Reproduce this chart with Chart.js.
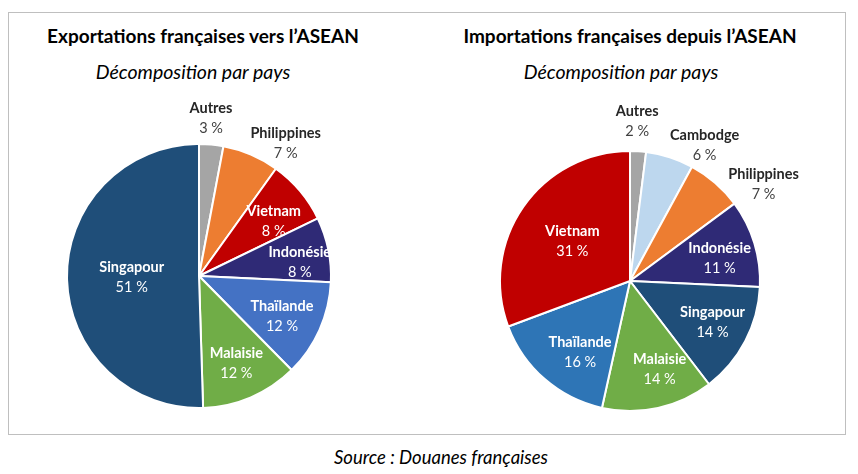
<!DOCTYPE html>
<html lang="fr">
<head>
  <meta charset="UTF-8">
  <title>ASEAN - décomposition par pays</title>
  <script src="https://cdn.jsdelivr.net/npm/chart.js"></script>
  <style>
    body {
      margin: 0;
      background: #ffffff;
      font-family: Lato, "Open Sans", sans-serif;
      width: 858px;
      height: 474px;
      position: relative;
      overflow: hidden;
    }
    .frame {
      position: absolute;
      left: 8px;
      top: 12px;
      width: 836px;
      height: 421px;
      border: 1.5px solid #bfbfbf;
    }
    .title {
      position: absolute;
      font-weight: bold;
      font-size: 19px;
      color: #000;
      white-space: nowrap;
      transform: translateX(-50%);
    }
    .subtitle {
      position: absolute;
      font-style: italic;
      font-size: 19.5px;
      color: #000;
      white-space: nowrap;
      transform: translateX(-50%);
    }
    .chart-box {
      position: absolute;
      width: 400px;
      height: 335px;
      top: 95px;
    }
    .source {
      position: absolute;
      left: 441px;
      top: 446px;
      transform: translateX(-50%);
      font-style: italic;
      font-size: 18.5px;
      color: #000;
      white-space: nowrap;
    }
  </style>
</head>
<body>
  <div class="frame"></div>

  <div class="title" style="left:203px; top:24px;">Exportations françaises vers l’ASEAN</div>
  <div class="subtitle" style="left:193px; top:60px;">Décomposition par pays</div>
  <div class="title" style="left:630px; top:24px;">Importations françaises depuis l’ASEAN</div>
  <div class="subtitle" style="left:621px; top:60px;">Décomposition par pays</div>

  <div class="chart-box" style="left:10px;"><canvas id="exportChart"></canvas></div>
  <div class="chart-box" style="left:430px;"><canvas id="importChart"></canvas></div>

  <div class="source">Source : Douanes françaises</div>

  <script>
    // exports, clockwise from 12 o'clock
    const exportCountries = ['Autres', 'Philippines', 'Vietnam', 'Indonésie', 'Thaïlande', 'Malaisie', 'Singapour'];
    const exportShares = [3, 7, 8, 8, 12, 12, 51];

    // imports, clockwise from 12 o'clock
    const importCountries = ['Autres', 'Cambodge', 'Philippines', 'Indonésie', 'Singapour', 'Malaisie', 'Thaïlande', 'Vietnam'];
    const importShares = [2, 6, 7, 11, 14, 14, 16, 31];

    // styling
    const exportColors = ['#a5a5a5', '#ed7d31', '#c00000', '#2f2a76', '#4472c4', '#70ad47', '#1f4e79'];
    const importColors = ['#a5a5a5', '#bdd7ee', '#ed7d31', '#2f2a76', '#1f4e79', '#70ad47', '#2e75b6', '#c00000'];
    // label distance from centre (share of radius) and angle nudge (degrees)
    const exportLabelPos = [[1.2, -1], [1.2, 10], [0.7, 4], [0.77, 4], [0.7, 2], [0.72, 0], [0.51, 0]];
    const importLabelPos = [[1.23, -1], [1.19, 11], [1.27, 13], [0.71, 3], [0.71, -1], [0.72, -6], [0.67, -6], [0.54, 0]];
    const exportOutside = [true, true, false, false, false, false, false];
    const importOutside = [true, true, true, false, false, false, false, false];

    const sliceLabels = {
      id: 'sliceLabels',
      afterDatasetsDraw(chart, args, opts) {
        const ctx = chart.ctx;
        const meta = chart.getDatasetMeta(0);
        const names = chart.data.labels;
        const values = chart.data.datasets[0].data;
        meta.data.forEach((arc, i) => {
          const p = arc.getProps(['x', 'y', 'startAngle', 'endAngle', 'outerRadius'], true);
          const mid = (p.startAngle + p.endAngle) / 2 + opts.pos[i][1] * Math.PI / 180;
          const r = p.outerRadius * opts.pos[i][0];
          const cx = p.x + Math.cos(mid) * r;
          const cy = p.y + Math.sin(mid) * r;
          const outside = opts.outside[i];
          ctx.save();
          ctx.textAlign = 'center';
          ctx.textBaseline = 'middle';
          ctx.font = 'bold 14.5px Lato, sans-serif';
          ctx.fillStyle = outside ? '#262626' : '#ffffff';
          ctx.fillText(names[i], cx, cy - 10);
          ctx.font = '14.5px Lato, sans-serif';
          ctx.fillStyle = outside ? '#404040' : '#ffffff';
          ctx.fillText(values[i] + ' %', cx, cy + 10);
          ctx.restore();
        });
      }
    };

    function makePie(id, labels, values, colors, padding, pos, outside) {
      return new Chart(document.getElementById(id), {
        type: 'pie',
        data: {
          labels: labels,
          datasets: [{
            data: values,
            backgroundColor: colors,
            borderColor: '#ffffff',
            borderWidth: 2
          }]
        },
        options: {
          responsive: true,
          maintainAspectRatio: false,
          animation: false,
          layout: { padding: padding },
          plugins: {
            legend: { display: false },
            tooltip: { enabled: false },
            sliceLabels: { pos: pos, outside: outside }
          }
        },
        plugins: [sliceLabels]
      });
    }

    makePie('exportChart', exportCountries, exportShares, exportColors,
      { left: 56, right: 78, top: 48, bottom: 21 }, exportLabelPos, exportOutside);
    makePie('importChart', importCountries, importShares, importColors,
      { left: 69, right: 69, top: 55, bottom: 18 }, importLabelPos, importOutside);
  </script>
</body>
</html>
